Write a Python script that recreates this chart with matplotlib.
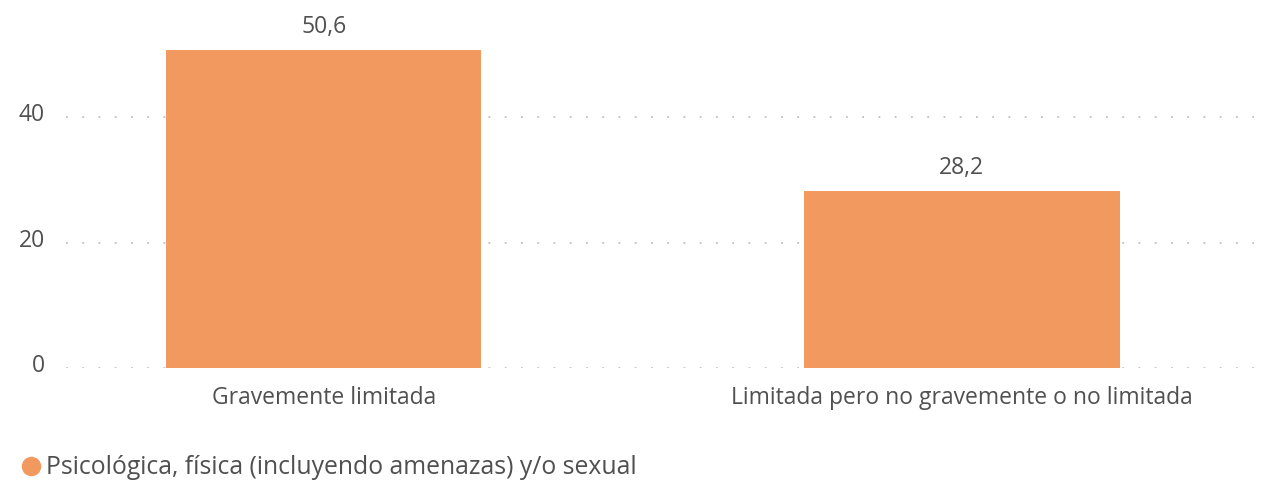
import matplotlib.pyplot as plt
import matplotlib.transforms as mtransforms
from matplotlib.lines import Line2D

categories = ['Gravemente limitada', 'Limitada pero no gravemente o no limitada']
values = [50.6, 28.2]
series_name = 'Psicológica, física (incluyendo amenazas) y/o sexual'

bar_color = '#F2995F'
text_color = '#505050'

plt.rcParams['font.family'] = ['Open Sans', 'DejaVu Sans']

fig = plt.figure(figsize=(12.65, 4.8), dpi=100)
ax = fig.add_axes([0.052, 0.233, 0.946, 0.725])

pos = list(range(len(categories)))
rects = ax.bar(pos, values, width=0.494, color=bar_color, zorder=2)

for rect, v in zip(rects, values):
    ax.annotate(f'{v:.1f}'.replace('.', ','),
                (rect.get_x() + rect.get_width() / 2, rect.get_height()),
                xytext=(0, 8), textcoords='offset points',
                ha='center', va='bottom', fontsize=16.5, color=text_color)

ax.set_xlim(-0.404, 1.471)
ax.set_ylim(0, 55.4)
ax.set_yticks([0, 20, 40])
ax.set_xticks(pos)
ax.set_xticklabels(categories)

ax.grid(axis='y', color='#c0c0c0', linestyle=(0, (1, 8)), linewidth=1.3, zorder=0)
ax.tick_params(axis='y', length=0, pad=15, labelsize=16.5, labelcolor=text_color)
ax.tick_params(axis='x', length=0, pad=13, labelsize=16.5, labelcolor=text_color)
for s in ax.spines.values():
    s.set_visible(False)

# y labels sit a little above their gridlines
shift = mtransforms.ScaledTranslation(0, 5 / 100, fig.dpi_scale_trans)
for lab in ax.get_yticklabels():
    lab.set_transform(lab.get_transform() + shift)

handle = Line2D([], [], marker='o', linestyle='none', markersize=13,
                markerfacecolor=bar_color, markeredgecolor=bar_color)
fig.legend([handle], [series_name], loc='lower left', bbox_to_anchor=(0.001, -0.037),
           frameon=False, fontsize=17.8, labelcolor=text_color,
           handletextpad=0.1, borderaxespad=0.3, handlelength=1.0)

fig.savefig('out.png', dpi=100)
